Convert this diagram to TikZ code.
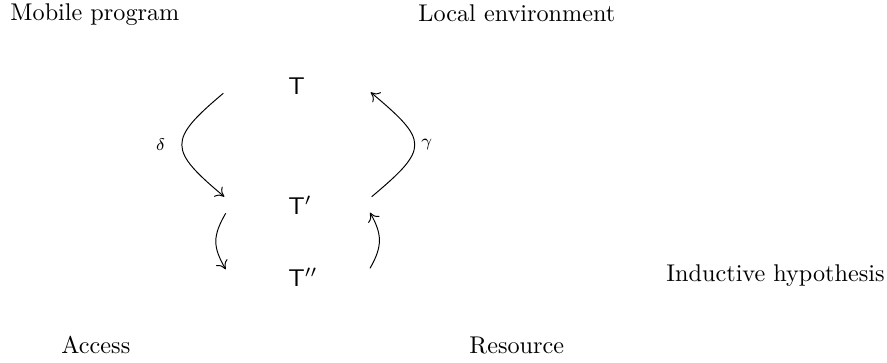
\documentclass[tikz,border=0pt]{standalone}
\usetikzlibrary{arrows.meta}
\begin{document}
\begin{tikzpicture}[x=0.4132pt,y=0.4132pt,
  txt/.style={inner sep=0pt,anchor=base west},
  term/.style={inner sep=0pt,anchor=base west},
  lbl/.style={inner sep=0pt,font=\scriptsize},
  arr/.style={-{To[length=3.4pt,width=5.4pt]},line width=0.4pt}]
\useasboundingbox (0,0) rectangle (887,362);
% texts
\node[txt] (mob) at (10,341.3) {Mobile program};
\node[txt] (loc) at (418,341) {Local environment};
\node[txt] (acc) at (61,9) {Access};
\node[txt] (res) at (469,9) {Resource};
\node[txt] (ind) at (666,80.3) {Inductive hypothesis};
% terms
\node[term] (t0) at (288,268) {$\mathsf{T}$};
\node[term] (t1) at (288,147.5) {$\mathsf{T}'$};
\node[term] (t2) at (288,76) {$\mathsf{T}''$};
% arrow end points
\coordinate (d1) at (223.3,268.7);
\coordinate (d2) at (224.3,165.3);
\coordinate (g1) at (371.7,165.3);
\coordinate (g2) at (370.7,269.7);
\coordinate (a1) at (225.7,148.7);
\coordinate (a2) at (225.7,92.7);
\coordinate (b1) at (370,93.7);
\coordinate (b2) at (370,149.3);
% arrows
\draw[arr] (d1) to[out=-140,in=140,looseness=1.8] (d2);
\draw[arr] (g1) to[out=40,in=-40,looseness=1.85] (g2);
\draw[arr] (a1) to[out=-120,in=120,looseness=1.2] (a2);
\draw[arr] (b1) to[out=60,in=-60,looseness=1.15] (b2);
% labels
\node[lbl] (dl) at (160.7,217.3) {$\delta$};
\node[lbl] (gl) at (426.7,217.3) {$\gamma$};
\end{tikzpicture}
\end{document}
